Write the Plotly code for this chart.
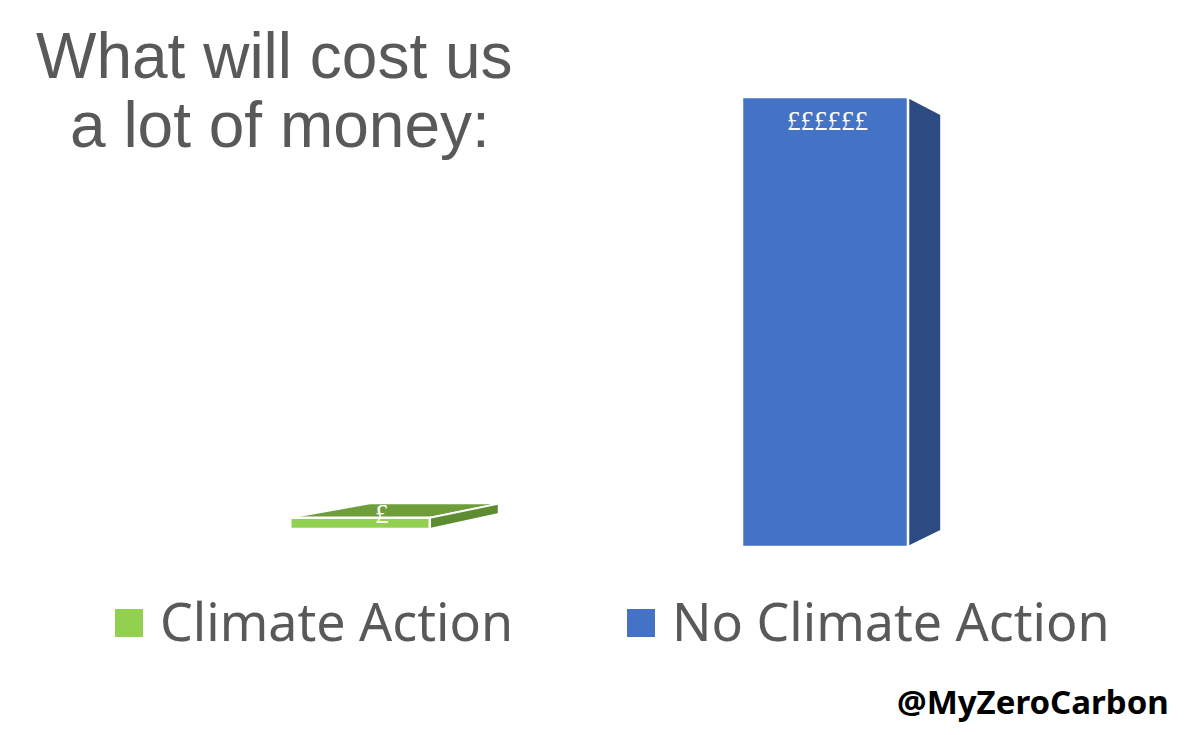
import plotly.graph_objects as go

# ---- data ----
categories = ["Climate Action", "No Climate Action"]
costs = [2.5, 100]            # relative cost (blue bar = 100)
bar_labels = ["£", "££££££"]
title_lines = ["What will cost us", "a lot of money:"]
credit = "@MyZeroCarbon"

# ---- style ----
front_colors = ["#92D050", "#4472C4"]
top_colors = ["#6E9E3A", "#3A63AE"]
side_colors = ["#5E8C30", "#2C4B82"]
bar_widths = [0.30, 0.357]
floor_tilt = 4.0                 # perspective: floor rises to the left
vanish = (2.13, 48.4)            # vanishing point in data coords
depth = 0.075                    # depth fraction towards vanishing point
W, H = 1200, 735
px_per_x, x_origin = 465.0, 360.0
px_per_y, y_origin = 4.5, 547.0

xs = list(range(len(categories)))
bases = [floor_tilt * (len(categories) - 1 - i) for i in xs]

fig = go.Figure()
fig.add_trace(go.Bar(
    x=xs, y=costs, base=bases, width=bar_widths,
    marker=dict(color=front_colors, line=dict(color="white", width=2.5)),
    hoverinfo="skip", showlegend=False,
))


def back(p):
    return (p[0] + depth * (vanish[0] - p[0]), p[1] + depth * (vanish[1] - p[1]))


def path(pts):
    return "M " + " L ".join(f"{x:.4f},{y:.4f}" for x, y in pts) + " Z"


shapes = []
for i in xs:
    x0, x1 = i - bar_widths[i] / 2, i + bar_widths[i] / 2
    yb, yt = bases[i], bases[i] + costs[i]
    top = [(x0, yt), (x1, yt), back((x1, yt)), back((x0, yt))]
    side = [(x1, yt), back((x1, yt)), back((x1, yb)), (x1, yb)]
    shapes.append(dict(type="path", path=path(top), xref="x", yref="y",
                       fillcolor=top_colors[i], line=dict(color="white", width=1.5),
                       layer="below"))
    shapes.append(dict(type="path", path=path(side), xref="x", yref="y",
                       fillcolor=side_colors[i], line=dict(color="white", width=2),
                       layer="below"))

annotations = []
label_shift = [(22, 4), (2, -24)]
for i in xs:
    annotations.append(dict(x=i, y=bases[i] + costs[i], xref="x", yref="y",
                            text=bar_labels[i], showarrow=False, yanchor="middle",
                            xshift=label_shift[i][0], yshift=label_shift[i][1],
                            font=dict(family="Liberation Serif", size=27, color="white")))

# title
title_centers = [(274, 56), (280, 125)]
for t, (cx, cy) in zip(title_lines, title_centers):
    annotations.append(dict(x=cx / W, y=1 - cy / H, xref="paper", yref="paper",
                            text=t, showarrow=False, xanchor="center", yanchor="middle",
                            font=dict(family="Liberation Sans", size=64, color="#595959")))

# manual legend
legend_sq_x = [115, 627]
sq = 28
leg_cy = 623
for i, name in enumerate(categories):
    sx = legend_sq_x[i]
    shapes.append(dict(type="rect", xref="paper", yref="paper",
                       x0=sx / W, x1=(sx + sq) / W,
                       y0=1 - (leg_cy + sq / 2) / H, y1=1 - (leg_cy - sq / 2) / H,
                       fillcolor=front_colors[i], line=dict(width=0)))
    annotations.append(dict(x=(sx + sq + 15) / W, y=1 - 620 / H, xref="paper", yref="paper",
                            text=name, showarrow=False, xanchor="left", yanchor="middle",
                            font=dict(family="Noto Sans", size=52, color="#595959")))

annotations.append(dict(x=1171 / W, y=1 - 701 / H, xref="paper", yref="paper",
                        text=f"<b>{credit}</b>", showarrow=False, xanchor="right",
                        yanchor="middle",
                        font=dict(family="Noto Sans", size=33, color="black")))

fig.update_layout(
    width=W, height=H, autosize=False,
    margin=dict(l=0, r=0, t=0, b=0),
    paper_bgcolor="white", plot_bgcolor="white",
    xaxis=dict(range=[(0 - x_origin) / px_per_x, (W - x_origin) / px_per_x],
               visible=False, fixedrange=True),
    yaxis=dict(range=[(y_origin - H) / px_per_y, y_origin / px_per_y],
               visible=False, fixedrange=True),
    shapes=shapes, annotations=annotations,
    showlegend=False,
)

fig.write_html("out.html", config={"displayModeBar": False},
               post_script="document.body.style.margin='0';")
